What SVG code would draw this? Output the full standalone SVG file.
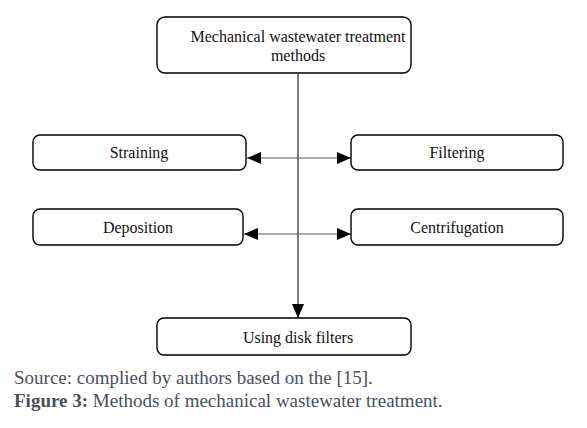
<svg xmlns="http://www.w3.org/2000/svg" width="587" height="428" viewBox="0 0 587 428">
<defs>
<style>
.box{fill:#fff;stroke:#000;stroke-width:1.4}
.lbl{font-family:"Liberation Serif","DejaVu Serif",serif;font-size:16px;fill:#111;text-anchor:middle}
.cap{font-family:"Liberation Serif","DejaVu Serif",serif;font-size:19px;fill:#4a4f5c}
.ln{stroke:#000;stroke-width:1;fill:none}
.hl{stroke:#555;stroke-width:1.2;fill:none}
</style>
<marker id="ah" viewBox="0 0 14 12" refX="14" refY="6" markerWidth="14" markerHeight="12" markerUnits="userSpaceOnUse" orient="auto-start-reverse">
<path d="M0,0 L14,6 L0,12 Z" fill="#000"/>
</marker>
</defs>
<rect width="587" height="428" fill="#fff"/>
<g id="connectors">
<line class="ln" x1="298" y1="74" x2="298" y2="318" marker-end="url(#ah)"/>
<line class="hl" x1="247" y1="158" x2="351" y2="158" marker-start="url(#ah)" marker-end="url(#ah)"/>
<line class="hl" x1="244" y1="234" x2="351" y2="234" marker-start="url(#ah)" marker-end="url(#ah)"/>
</g>
<g id="top">
<rect class="box" x="157" y="17" width="254" height="56" rx="8"/>
<text class="lbl" x="298" y="42">Mechanical wastewater treatment</text>
<text class="lbl" x="298" y="61">methods</text>
</g>
<g id="straining">
<rect class="box" x="33" y="135" width="213" height="35" rx="7"/>
<text class="lbl" x="139" y="158">Straining</text>
</g>
<g id="filtering">
<rect class="box" x="351" y="135" width="212" height="35" rx="7"/>
<text class="lbl" x="457" y="158">Filtering</text>
</g>
<g id="deposition">
<rect class="box" x="33" y="209" width="210" height="36" rx="7"/>
<text class="lbl" x="138" y="233">Deposition</text>
</g>
<g id="centrifugation">
<rect class="box" x="351" y="209" width="212" height="36" rx="7"/>
<text class="lbl" x="457" y="233">Centrifugation</text>
</g>
<g id="disk">
<rect class="box" x="157" y="318" width="254" height="37" rx="7"/>
<text class="lbl" x="298" y="343">Using disk filters</text>
</g>
<text class="cap" x="14" y="384">Source: complied by authors based on the [15].</text>
<text class="cap" x="14" y="407"><tspan font-weight="bold">Figure 3:</tspan> Methods of mechanical wastewater treatment.</text>
</svg>
